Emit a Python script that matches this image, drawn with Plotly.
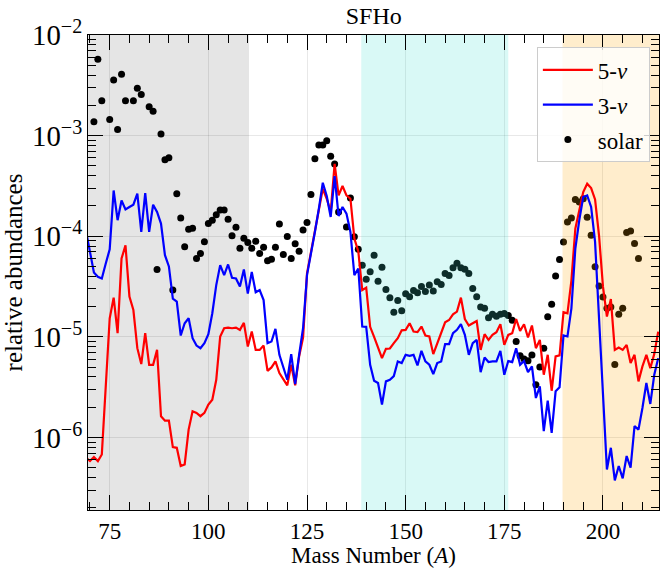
import numpy as np
import plotly.graph_objects as go

# ---- data (log10 of relative abundance) ----
mass = list(range(69, 215))

log_5nu = [
    -6.2, -6.234, -6.194, -6.234, -6.168, -5.508, -4.815, -4.61, -4.963, -4.221,   # 69-78
    -4.09, -4.6, -4.733, -5.112, -5.27, -4.963, -5.277, -5.277, -5.129, -5.788,    # 79-88
    -5.832, -5.832, -6.095, -6.102, -6.283, -6.267, -5.921, -5.739, -5.755, -5.788,  # 89-98
    -5.755, -5.673, -5.624, -5.426, -4.996, -4.914, -4.907, -4.914, -4.907, -4.93,   # 99-108
    -4.86, -5.095, -4.947, -5.129, -5.129, -5.086, -5.337, -5.303, -5.244, -5.36,    # 109-118
    -5.426, -5.481, -5.277, -5.481, -5.194, -5.006, -4.369, -4.155, -3.973, -3.759,  # 119-128
    -3.528, -3.627, -3.759, -3.28, -3.594, -3.501, -3.594, -3.627, -4.023, -4.15,    # 129-138
    -4.535, -4.51, -4.9, -5.0, -5.1, -5.211, -5.119, -5.115, -5.062, -5.013,         # 139-148
    -4.935, -4.93, -4.864, -4.947, -4.953, -4.897, -4.986, -4.996, -5.171, -5.062,   # 149-158
    -4.947, -4.855, -4.832, -4.775, -4.749, -4.61, -4.822, -4.887, -4.864, -4.842,   # 159-168
    -5.129, -4.973, -5.03, -4.98, -4.953, -4.874, -5.079, -4.98, -4.963, -4.822,     # 169-178
    -4.94, -4.874, -5.006, -4.887, -5.112, -5.03, -5.376, -5.178, -5.535, -5.194,    # 179-188
    -5.184, -4.755, -4.765, -4.44, -3.924, -3.742, -3.56, -3.478, -3.521, -3.634,    # 189-198
    -3.99, -4.501, -4.798, -4.624, -5.129, -5.106, -5.129, -5.079, -5.26, -5.178,    # 199-208
    -5.442, -5.293, -5.178, -5.31, -5.171, -4.947,                                   # 209-214
]

log_3nu = [
    -3.95, -4.15, -4.36, -4.402, -4.42, -4.27, -4.13, -3.545, -3.84, -3.644,         # 69-78
    -3.733, -3.709, -3.686, -3.577, -3.957, -3.57, -3.957, -3.686, -3.759, -3.874,   # 79-88
    -4.188, -4.3, -4.62, -4.65, -4.986, -4.864, -4.815, -5.013, -5.086, -5.112,      # 89-98
    -5.062, -4.973, -4.765, -4.485, -4.287, -4.386, -4.28, -4.412, -4.419, -4.5,     # 99-108
    -4.33, -4.57, -4.355, -4.556, -4.535, -4.634, -5.062, -5.046, -4.92, -5.178,     # 109-118
    -5.293, -5.426, -5.171, -5.468, -5.178, -4.914, -4.386, -4.188, -3.957, -3.726,  # 119-128
    -3.468, -3.6, -3.808, -3.402, -3.798, -3.709, -3.775, -3.957, -4.386, -4.32,     # 129-138
    -4.897, -4.9, -5.277, -5.436, -5.458, -5.673, -5.442, -5.426, -5.39, -5.244,     # 139-148
    -5.26, -5.178, -5.188, -5.178, -5.284, -5.139, -5.244, -5.277, -5.369, -5.26,    # 149-158
    -5.244, -5.072, -5.072, -4.963, -4.93, -4.874, -4.98, -5.178, -5.062, -5.03,     # 159-168
    -5.35, -5.204, -5.25, -5.244, -5.244, -5.139, -5.376, -5.24, -5.25, -5.112,      # 169-178
    -5.277, -5.24, -5.35, -5.293, -5.607, -5.491, -5.937, -5.634, -5.953, -5.541,    # 179-188
    -5.501, -4.986, -4.996, -4.716, -4.122, -3.84, -3.61, -3.594, -3.709, -4.056,    # 189-198
    -4.855, -5.652, -6.317, -6.102, -6.426, -6.283, -6.406, -6.184, -6.3, -5.887,    # 199-208
    -5.921, -5.706, -5.458, -5.666, -5.376, -5.211,                                  # 209-214
]

solar_mass = [
    71, 72, 73, 75, 76, 77, 78, 79, 81, 82, 83, 85, 86, 87, 88, 89, 90, 91, 92, 93,
    94, 95, 96, 97, 98, 99, 100, 101, 102, 103, 104, 105, 106, 107, 108, 109, 110,
    111, 112, 113, 114, 115, 116, 117, 118, 119, 120, 121, 122, 123, 124, 125, 126,
    127, 128, 129, 130, 131, 132, 133, 135, 136, 137, 138, 139, 140, 141, 142, 143,
    144, 145, 146, 147, 148, 149, 150, 151, 152, 153, 154, 155, 156, 157, 158, 159,
    160, 161, 162, 163, 164, 165, 166, 167, 168, 169, 170, 171, 172, 173, 174, 175,
    176, 177, 178, 179, 180, 181, 182, 183, 184, 185, 186, 187, 188, 189, 190, 191,
    192, 193, 194, 195, 196, 197, 198, 199, 200, 201, 202, 203, 204, 205, 206, 207,
    208, 209,
]
log_solar = [
    -2.861, -2.24, -2.653, -2.84, -2.446, -2.94, -2.389, -2.653, -2.653, -2.53,
    -2.59, -2.713, -2.758, -4.33, -2.983, -3.24, -3.22, -4.535, -3.577, -3.818,
    -4.105, -3.93, -3.92, -4.22, -4.17, -4.055, -3.874, -3.84, -3.785, -3.74,
    -3.74, -3.83, -3.996, -3.91, -4.12, -4.02, -4.062,
    -4.12, -4.05, -4.17, -4.11, -4.244, -4.228, -4.11, -3.877, -4.18, -4.003,
    -4.22, -4.075, -4.148, -3.937, -3.864, -3.584,
    -3.23, -3.092, -3.092, -3.052, -3.204, -3.283, -3.76, -3.907, -3.62, -4.006,
    -4.13, -4.287, -4.426, -4.353, -4.188, -4.446,
    -4.307, -4.53, -4.61, -4.755, -4.637, -4.739, -4.57, -4.6, -4.538, -4.56,
    -4.498, -4.55, -4.485, -4.545, -4.452, -4.478,
    -4.37, -4.39, -4.313, -4.267, -4.313, -4.327, -4.37, -4.518, -4.6, -4.703,
    -4.716, -4.81, -4.775, -4.795, -4.775, -4.768,
    -4.788, -4.835, -5.045, -5.188, -5.22, -5.238, -5.18, -5.475, -5.3, -5.112,
    -4.8, -4.676, -4.396, -4.23, -4.056, -3.857,
    -3.818, -3.634, -3.66, -3.627, -3.81, -3.99, -4.303, -4.495, -4.604, -4.716,
    -4.703, -5.273, -4.775, -4.716, -3.963, -3.947,
    -4.072, -4.22,
]

# shaded mass regions (lower / upper bound) and colours
shade_lo = [60.0, 138.75, 189.75]
shade_hi = [110.3, 176.0, 216.0]
shade_col = ["rgb(229,229,229)", "rgba(64,224,208,0.2)", "rgba(255,165,0,0.2)"]

x_range = [69.5, 214.2]
y_range_log = [-6.72, -2.0]

FONT = "Liberation Serif"

fig = go.Figure()

# solar points (drawn first so the coloured shading tints them)
fig.add_trace(go.Scatter(
    x=solar_mass, y=[10 ** v for v in log_solar], mode="markers",
    marker=dict(color="black", size=7), name="solar",
    legendgroup="c", legendrank=3,
))

# the plot background carries the grey band colour; the part of the window
# past the grey band is painted white underneath everything
fig.add_shape(type="rect", xref="x", yref="paper",
              x0=shade_hi[0], x1=x_range[1], y0=0, y1=1,
              fillcolor="white", line=dict(width=0), layer="below")

# other bands as filled traces drawn over the solar points
ylo, yhi = 10 ** y_range_log[0], 10 ** y_range_log[1]
for lo, hi, col in zip(shade_lo[1:], shade_hi[1:], shade_col[1:]):
    a, b = max(lo, x_range[0]), min(hi, x_range[1])
    fig.add_trace(go.Scatter(
        x=[a, a, b, b, a], y=[ylo, yhi, yhi, ylo, ylo],
        mode="lines", fill="toself", fillcolor=col,
        line=dict(width=0, color=col), hoverinfo="skip", showlegend=False,
    ))

fig.add_trace(go.Scatter(
    x=mass, y=[10 ** v for v in log_5nu], mode="lines",
    line=dict(color="#ff0000", width=2.2), name="5-<i>ν</i>",
    legendgroup="a", legendrank=1,
))
fig.add_trace(go.Scatter(
    x=mass, y=[10 ** v for v in log_3nu], mode="lines",
    line=dict(color="#0000ff", width=2.2), name="3-<i>ν</i>",
    legendgroup="b", legendrank=2,
))

axis_common = dict(
    showline=True, linecolor="black", linewidth=1.3, mirror="allticks",
    ticks="inside", ticklen=15, tickwidth=1.1, tickcolor="black",
    showgrid=True, gridcolor="rgba(0,0,0,0.09)", gridwidth=1,
    zeroline=False, tickfont=dict(family=FONT, size=23, color="black"),
)

fig.update_xaxes(
    range=x_range, tick0=75, dtick=25,
    minor=dict(ticks="inside", ticklen=8, tickwidth=1, tickcolor="black",
               dtick=5, tick0=75, showgrid=False),
    title=dict(text="Mass Number (<i>A</i>)", font=dict(family=FONT, size=23, color="black"),
               standoff=7),
    **axis_common,
)
fig.update_yaxes(
    type="log", range=y_range_log, dtick=1, exponentformat="power",
    minor=dict(ticks="inside", ticklen=8, tickwidth=1, tickcolor="black", showgrid=False),
    title=dict(text="relative abundances", font=dict(family=FONT, size=25, color="black"),
               standoff=4),
    **axis_common,
)

fig.update_layout(
    width=661, height=568,
    margin=dict(l=88, r=1, t=35, b=56),
    plot_bgcolor=shade_col[0], paper_bgcolor="white",
    title=dict(text="SFHo", x=0.5655, xanchor="center", y=0.972, yanchor="middle",
               font=dict(family=FONT, size=24, color="black")),
    legend=dict(
        x=0.984, xanchor="right", y=0.974, yanchor="top",
        bgcolor="rgba(255,255,255,0.8)", bordercolor="#cccccc", borderwidth=1,
        font=dict(family=FONT, size=23, color="black"),
        tracegroupgap=2, itemwidth=50,
    ),
    showlegend=True,
)

fig.write_html("out.html")
